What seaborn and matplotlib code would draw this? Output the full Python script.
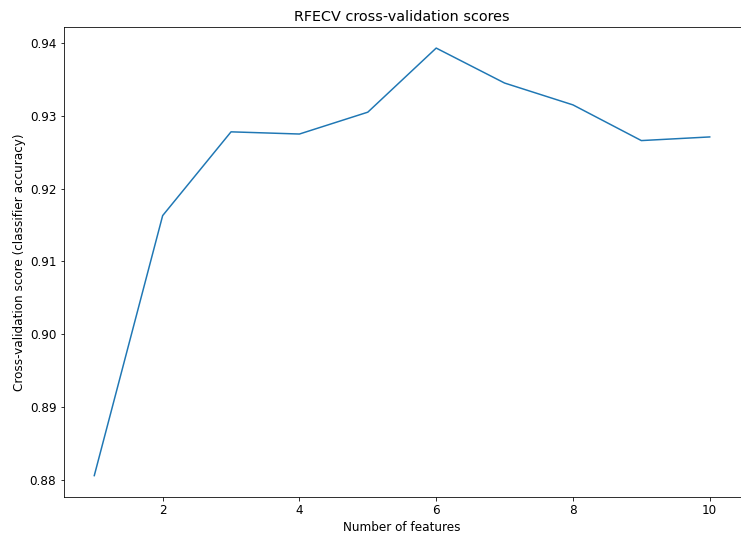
import matplotlib
matplotlib.use("Agg")
import matplotlib.pyplot as plt
import seaborn as sns
import pandas as pd

n_features = [1, 2, 3, 4, 5, 6, 7, 8, 9, 10]
cv_scores = [0.8806, 0.9163, 0.9278, 0.9275, 0.9305, 0.9393, 0.9345, 0.9315, 0.9266, 0.9271]

df = pd.DataFrame({"n": n_features, "score": cv_scores})

plt.rcParams["font.family"] = ["DejaVu Sans"]
plt.rcParams["font.size"] = 12

fig = plt.figure(figsize=(741 / 72, 540 / 72), dpi=72)
ax = fig.add_axes([63.5 / 741, 1 - 497 / 540, (740.5 - 63.5) / 741, (497 - 26.7) / 540])
sns.lineplot(data=df, x="n", y="score", ax=ax, color="#1f77b4", linewidth=1.5)
ax.set_title("RFECV cross-validation scores")
ax.set_xlabel("Number of features")
ax.set_ylabel("Cross-validation score (classifier accuracy)")
ax.set_xticks([2, 4, 6, 8, 10])
ax.set_yticks([0.88, 0.89, 0.90, 0.91, 0.92, 0.93, 0.94])
ax.set_yticklabels(["0.88", "0.89", "0.90", "0.91", "0.92", "0.93", "0.94"])
fig.savefig("out.png", dpi=72)
